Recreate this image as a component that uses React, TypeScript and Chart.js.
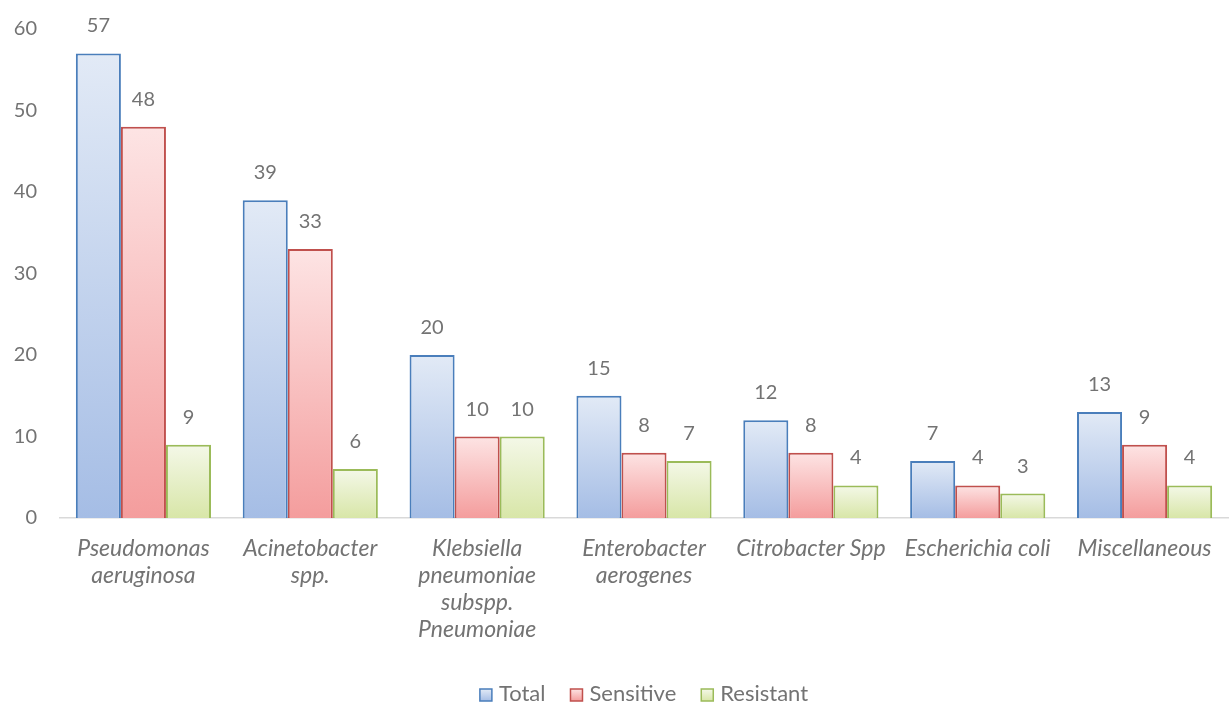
import React, { useEffect, useRef } from "react";
import { Chart, registerables } from "chart.js";

Chart.register(...registerables);

const categories: string[][] = [
  ["Pseudomonas", "aeruginosa"],
  ["Acinetobacter", "spp."],
  ["Klebsiella", "pneumoniae", "subspp.", "Pneumoniae"],
  ["Enterobacter", "aerogenes"],
  ["Citrobacter Spp"],
  ["Escherichia coli"],
  ["Miscellaneous"],
];
const totalValues = [57, 39, 20, 15, 12, 7, 13];
const sensitiveValues = [48, 33, 10, 8, 8, 4, 9];
const resistantValues = [9, 6, 10, 7, 4, 3, 4];
const seriesNames = ["Total", "Sensitive", "Resistant"];
const yTicks = [0, 10, 20, 30, 40, 50, 60];

const FONT = "Lato, 'Open Sans', sans-serif";
const TEXT = "#737373";

const palette = [
  { border: "#4a7ebb", top: "#e2eaf6", bottom: "#a5bde5" },
  { border: "#c0504d", top: "#fde4e4", bottom: "#f49d9d" },
  { border: "#9bbb59", top: "#f4f8e8", bottom: "#d8e6a8" },
];

function gradFill(idx: number) {
  return (ctx: any) => {
    const chart = ctx.chart;
    const c = palette[idx];
    const y = chart.scales?.y;
    if (!y || ctx.type !== "data") return c.bottom;
    const v = ctx.parsed?.y ?? ctx.raw;
    const top = y.getPixelForValue(v);
    const base = y.getPixelForValue(0);
    if (!isFinite(top) || !isFinite(base) || top === base) return c.bottom;
    const g = chart.ctx.createLinearGradient(0, top, 0, base);
    g.addColorStop(0, c.top);
    g.addColorStop(1, c.bottom);
    return g;
  };
}

const labelPlugin = {
  id: "barLabels",
  afterDatasetsDraw(chart: any) {
    const ctx = chart.ctx;
    ctx.save();
    ctx.font = `20px ${FONT}`;
    ctx.fillStyle = TEXT;
    ctx.textAlign = "center";
    ctx.textBaseline = "alphabetic";
    chart.data.datasets.forEach((ds: any, di: number) => {
      const meta = chart.getDatasetMeta(di);
      meta.data.forEach((el: any, i: number) => {
        ctx.fillText(String(ds.data[i]), el.x, el.y - 21);
      });
    });
    ctx.restore();
  },
};

const legendPlugin = {
  id: "bottomLegend",
  afterDraw(chart: any) {
    const ctx = chart.ctx;
    const area = chart.chartArea;
    ctx.save();
    ctx.font = `22px ${FONT}`;
    const box = 12;
    const gap = 7;
    const spacing = 25;
    const widths = seriesNames.map((t) => box + gap + ctx.measureText(t).width);
    const total = widths.reduce((a, b) => a + b, 0) + spacing * (seriesNames.length - 1);
    let x = (area.left + area.right) / 2 - total / 2;
    const baseY = 701;
    seriesNames.forEach((t, i) => {
      const c = palette[i];
      const g = ctx.createLinearGradient(0, baseY - box, 0, baseY);
      g.addColorStop(0, c.top);
      g.addColorStop(1, c.bottom);
      ctx.fillStyle = g;
      ctx.fillRect(x, baseY - box, box, box);
      ctx.strokeStyle = c.border;
      ctx.lineWidth = 1.5;
      ctx.strokeRect(x, baseY - box, box, box);
      ctx.fillStyle = TEXT;
      ctx.textAlign = "left";
      ctx.textBaseline = "alphabetic";
      ctx.fillText(t, x + box + gap, baseY);
      x += widths[i] + spacing;
    });
    ctx.restore();
  },
};

export default function App() {
  const ref = useRef<HTMLCanvasElement>(null);
  useEffect(() => {
    document.body.style.margin = "0";
    const chart = new Chart(ref.current!, {
      type: "bar",
      data: {
        labels: categories,
        datasets: [
          { label: seriesNames[0], data: totalValues },
          { label: seriesNames[1], data: sensitiveValues },
          { label: seriesNames[2], data: resistantValues },
        ].map((d, i) => ({
          ...d,
          backgroundColor: gradFill(i),
          borderColor: palette[i].border,
          borderWidth: 2,
          categoryPercentage: 0.81,
          barPercentage: 1,
        })),
      },
      options: {
        animation: false,
        responsive: false,
        maintainAspectRatio: false,
        layout: { padding: { left: 0, right: 4, top: 29, bottom: 28 } },
        scales: {
          y: {
            min: 0,
            max: 60,
            afterBuildTicks: (axis: any) => {
              axis.ticks = yTicks.map((v) => ({ value: v }));
            },
            afterFit: (axis: any) => {
              axis.width = 60;
              axis.paddingTop = 0;
              axis.paddingBottom = 0;
            },
            grid: { display: false, drawTicks: false },
            border: { display: false },
            ticks: {
              padding: 23,
              color: TEXT,
              font: { family: FONT, size: 20 },
            },
          },
          x: {
            afterFit: (axis: any) => {
              axis.height = 158;
              axis.paddingLeft = 0;
              axis.paddingRight = 0;
            },
            grid: { display: false, drawTicks: false },
            border: { display: true, color: "#d9d9d9", width: 1.5 },
            ticks: {
              padding: 17,
              color: TEXT,
              maxRotation: 0,
              autoSkip: false,
              font: { family: FONT, size: 23, style: "italic", lineHeight: "27px" },
            },
          },
        },
        plugins: {
          tooltip: { enabled: false },
          legend: { display: false },
        },
      },
      plugins: [labelPlugin, legendPlugin],
    });
    return () => chart.destroy();
  }, []);
  return (
    <div style={{ position: "absolute", left: 0, top: 0, width: 1232, height: 704 }}>
      <canvas ref={ref} width={1232} height={704} style={{ width: 1232, height: 704 }} />
    </div>
  );
}
